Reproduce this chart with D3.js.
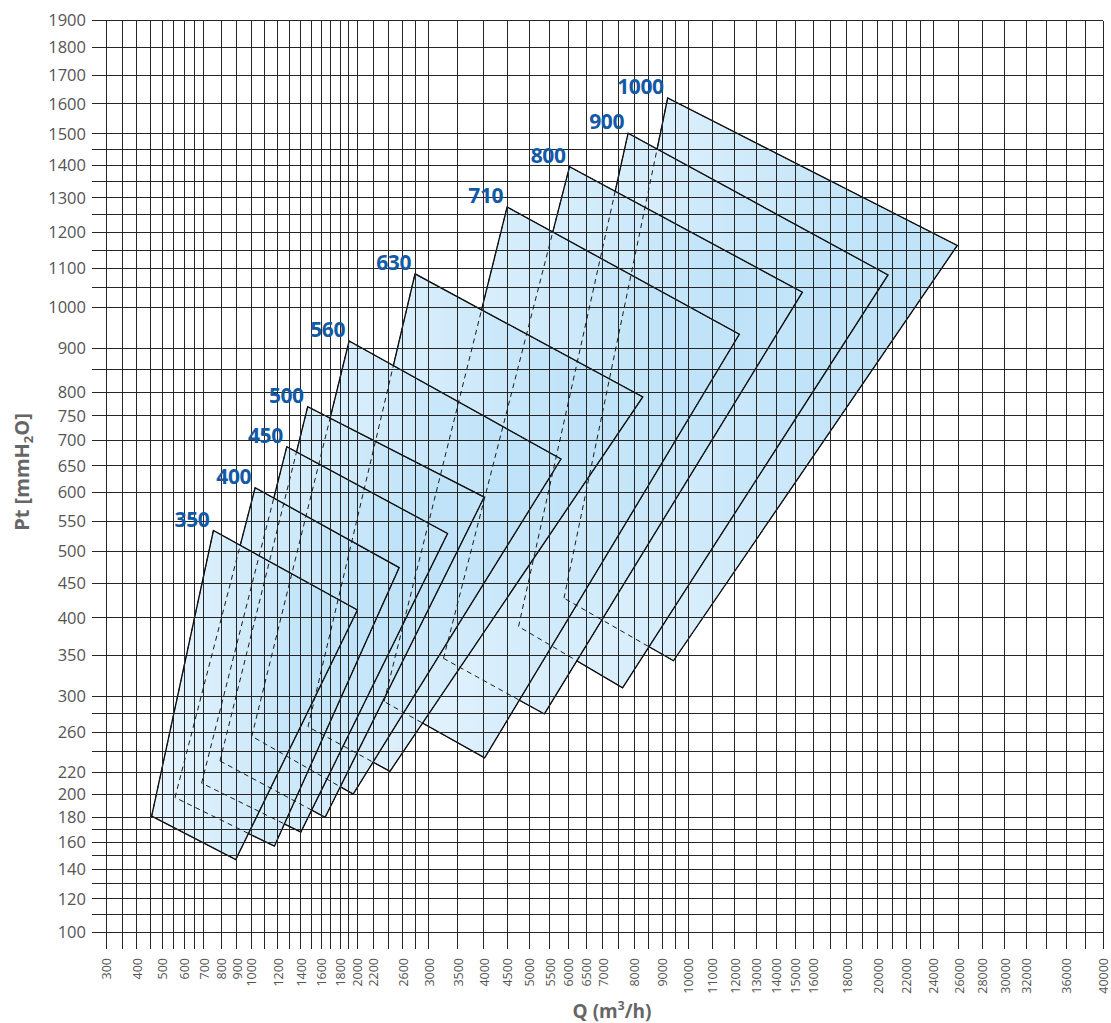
<!DOCTYPE html>
<html>
<head>
<meta charset="utf-8">
<script src="https://cdn.jsdelivr.net/npm/d3@7"></script>
<style>
  body { margin: 0; background: #fff; }
  svg { display: block; font-family: "Open Sans", "DejaVu Sans", sans-serif; }
</style>
</head>
<body>
<div id="container"></div>
<script>
const width = 1111,
  height = 1023;

// fan sizes and the four corners of each operating area (Q in m3/h, Pt in mmH2O)
const fanSizes = [350, 400, 450, 500, 560, 630, 710, 800, 900, 1000];
const leftQ = [456, 556, 689, 794, 1003, 1470, 2340, 3250, 4750, 5880];
const leftPt = [181, 197, 210, 231, 256, 266, 294, 346, 388, 428];
const topQ = [755, 1027, 1278, 1467, 1902, 2786, 4494, 6030, 7800, 9200];
const topPt = [534, 609, 687, 769, 917, 1086, 1273, 1395, 1502, 1620];
const rightQ = [2000, 2550, 3320, 4010, 5800, 8300, 12200, 15400, 20700, 25900];
const rightPt = [411, 474, 529, 592, 663, 790, 933, 1038, 1083, 1163];
const bottomQ = [893, 1175, 1403, 1640, 1950, 2420, 4020, 5370, 7620, 9420];
const bottomPt = [147, 157, 168, 180, 200, 221, 234, 280, 310, 343];

const qTicks = [300, 400, 500, 600, 700, 800, 900, 1000, 1200, 1400, 1600, 1800, 2000, 2200,
  2600, 3000, 3500, 4000, 4500, 5000, 5500, 6000, 6500, 7000, 8000, 9000, 10000, 11000,
  12000, 13000, 14000, 15000, 16000, 18000, 20000, 22000, 24000, 26000, 28000, 30000,
  32000, 36000, 40000];
const qGrid = [300, 350, 400, 450, 500, 550, 600, 650, 700, 800, 900, 1000, 1100, 1200, 1300,
  1400, 1500, 1600, 1700, 1800, 1900, 2000, 2200, 2400, 2600, 2800, 3000, 3500, 4000, 4500,
  5000, 5500, 6000, 6500, 7000, 7500, 8000, 8500, 9000, 9500, 10000, 11000, 12000, 13000,
  14000, 15000, 16000, 17000, 18000, 19000, 20000, 21000, 22000, 23000, 24000, 26000, 28000,
  30000, 32000, 34000, 36000, 38000, 40000];
const ptTicks = [100, 120, 140, 160, 180, 200, 220, 260, 300, 350, 400, 450, 500, 550, 600,
  650, 700, 750, 800, 900, 1000, 1100, 1200, 1300, 1400, 1500, 1600, 1700, 1800, 1900];
const ptGrid = [100, 110, 120, 130, 140, 150, 160, 170, 180, 200, 220, 240, 260, 280, 300,
  350, 400, 450, 500, 550, 600, 650, 700, 750, 800, 850, 900, 1000, 1050, 1100, 1150, 1200,
  1250, 1300, 1350, 1400, 1450, 1500, 1600, 1700, 1800, 1900];

const xScale = d3.scalePow().exponent(0.252)
  .domain([300, 40000])
  .range([106, 1103.3]);

const yScale = d3.scalePow().exponent(0.355)
  .domain([100, 1900])
  .range([932, 20.7]);

const fans = fanSizes.map((size, i) => ({
  size: size,
  corners: [
    [leftQ[i], leftPt[i]],
    [topQ[i], topPt[i]],
    [rightQ[i], rightPt[i]],
    [bottomQ[i], bottomPt[i]]
  ]
}));

const outline = d3.line()
  .x(d => xScale(d[0]))
  .y(d => yScale(d[1]))
  .curve(d3.curveLinearClosed);

const svg = d3.select("#container")
  .append("svg")
  .attr("width", width)
  .attr("height", height);

const grad = svg.append("defs")
  .append("linearGradient")
  .attr("id", "fanFill")
  .attr("x1", 0).attr("x2", 1)
  .attr("y1", 0).attr("y2", 0);
grad.append("stop").attr("offset", 0).attr("stop-color", "#e8f5fe");
grad.append("stop").attr("offset", 0.82).attr("stop-color", "#bee2f8");
grad.append("stop").attr("offset", 1).attr("stop-color", "#c4e5f9");

// big fans behind, small ones in front
svg.append("g")
  .attr("class", "areas")
  .selectAll("path")
  .data(fans.slice().reverse())
  .join("path")
  .attr("d", d => outline(d.corners))
  .attr("fill", "url(#fanFill)")
  .attr("stroke", "#000")
  .attr("stroke-width", 1.3);

const grid = svg.append("g")
  .attr("class", "grid")
  .attr("stroke", "#262626")
  .attr("stroke-width", 1)
  .attr("shape-rendering", "crispEdges");

grid.selectAll("line.v")
  .data(qGrid)
  .join("line")
  .attr("class", "v")
  .attr("x1", d => xScale(d)).attr("x2", d => xScale(d))
  .attr("y1", yScale(1900)).attr("y2", yScale(100) + 17);

grid.selectAll("line.h")
  .data(ptGrid)
  .join("line")
  .attr("class", "h")
  .attr("x1", xScale(300) - 14).attr("x2", xScale(40000))
  .attr("y1", d => yScale(d)).attr("y2", d => yScale(d));

// hidden edges show through as dashes
svg.append("g")
  .attr("class", "hidden")
  .selectAll("path")
  .data(fans)
  .join("path")
  .attr("d", d => outline(d.corners))
  .attr("fill", "none")
  .attr("stroke", "#1a1a1a")
  .attr("stroke-width", 1)
  .attr("stroke-dasharray", "5,4");

svg.append("g")
  .attr("class", "labels")
  .selectAll("text")
  .data(fans)
  .join("text")
  .attr("x", d => xScale(d.corners[1][0]) - 4)
  .attr("y", d => yScale(d.corners[1][1]) - 4)
  .attr("text-anchor", "end")
  .attr("font-size", 21)
  .attr("font-weight", "bold")
  .attr("letter-spacing", -0.4)
  .attr("fill", "#1259a6")
  .text(d => d.size);

const yAxis = d3.axisLeft(yScale)
  .tickValues(ptTicks)
  .tickFormat(d3.format("d"))
  .tickSize(0)
  .tickPadding(20);

const xAxis = d3.axisBottom(xScale)
  .tickValues(qTicks)
  .tickFormat(d3.format("d"))
  .tickSize(0);

const yAxisGroup = svg.append("g")
  .attr("class", "yAxis")
  .attr("transform", `translate(${xScale(300)},0)`)
  .call(yAxis);

const xAxisGroup = svg.append("g")
  .attr("class", "xAxis")
  .attr("transform", `translate(0,${yScale(100)})`)
  .call(xAxis);

svg.selectAll(".domain").remove();

yAxisGroup.selectAll("text")
  .attr("font-size", 16.5)
  .attr("font-family", "'Open Sans', sans-serif")
  .attr("fill", "#555");

xAxisGroup.selectAll("text")
  .attr("transform", "rotate(-90)")
  .attr("x", -26)
  .attr("y", 0)
  .attr("dy", "0.36em")
  .attr("text-anchor", "end")
  .attr("font-size", 12.5)
  .attr("font-family", "'Open Sans', sans-serif")
  .attr("fill", "#555");

const yTitle = svg.append("text")
  .attr("transform", "translate(29,472) rotate(-90)")
  .attr("text-anchor", "middle")
  .attr("font-size", 20)
  .attr("font-weight", "bold")
  .attr("fill", "#666");
yTitle.append("tspan").text("Pt [mmH");
yTitle.append("tspan").attr("font-size", 13).attr("dy", 4).text("2");
yTitle.append("tspan").attr("dy", -4).text("O]");

const xTitle = svg.append("text")
  .attr("x", 612)
  .attr("y", 1018)
  .attr("text-anchor", "middle")
  .attr("font-size", 19)
  .attr("font-weight", "bold")
  .attr("fill", "#666");
xTitle.append("tspan").text("Q (m");
xTitle.append("tspan").attr("font-size", 12).attr("dy", -8).text("3");
xTitle.append("tspan").attr("dy", 8).text("/h)");
</script>
</body>
</html>
